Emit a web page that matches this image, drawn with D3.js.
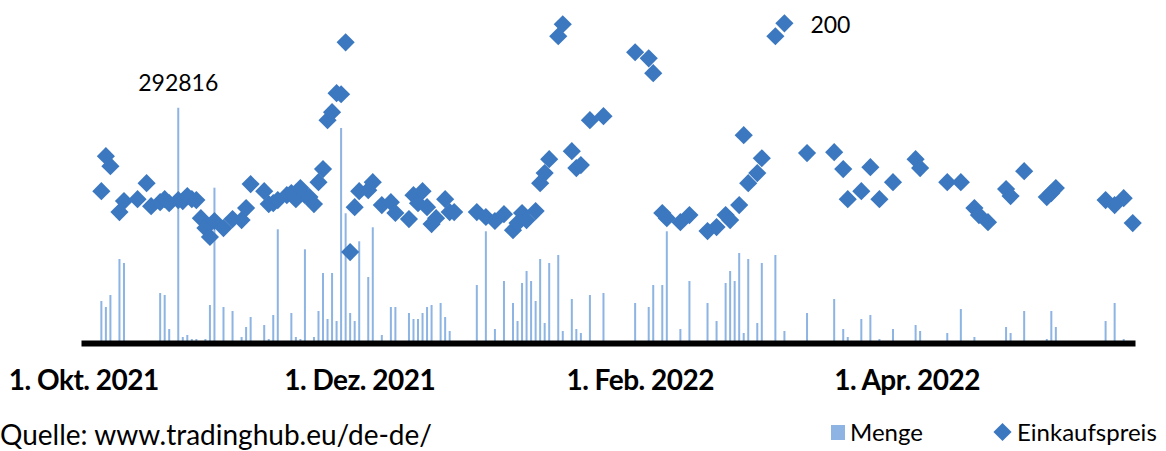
<!DOCTYPE html>
<html>
<head>
<meta charset="utf-8">
<script src="https://cdnjs.cloudflare.com/ajax/libs/d3/7.8.5/d3.min.js"></script>
<style>
  body { margin: 0; background: #fff; }
  svg text { font-family: Lato, "Open Sans", sans-serif; fill: #000; }
</style>
</head>
<body>
<svg id="chart"></svg>
<script>
const width = 1166;
const height = 451;

// Einkaufspreis (Rauten)
const preisDatum = [
    "2021-10-05", "2021-10-06", "2021-10-07", "2021-10-09", "2021-10-10", "2021-10-13", "2021-10-15", "2021-10-16",
    "2021-10-18", "2021-10-19", "2021-10-20", "2021-10-22", "2021-10-23", "2021-10-24", "2021-10-25", "2021-10-26",
    "2021-10-27", "2021-10-28", "2021-10-29", "2021-10-30", "2021-11-01", "2021-11-03", "2021-11-05", "2021-11-06",
    "2021-11-07", "2021-11-10", "2021-11-11", "2021-11-12", "2021-11-13", "2021-11-15", "2021-11-16", "2021-11-17",
    "2021-11-18", "2021-11-19", "2021-11-20", "2021-11-21", "2021-11-22", "2021-11-23", "2021-11-24", "2021-11-25",
    "2021-11-26", "2021-11-27", "2021-11-28", "2021-11-29", "2021-11-30", "2021-12-01", "2021-12-03", "2021-12-04",
    "2021-12-06", "2021-12-08", "2021-12-09", "2021-12-12", "2021-12-13", "2021-12-14", "2021-12-15", "2021-12-16",
    "2021-12-17", "2021-12-18", "2021-12-20", "2021-12-21", "2021-12-22", "2021-12-27", "2021-12-29", "2021-12-31",
    "2022-01-02", "2022-01-04", "2022-01-05", "2022-01-06", "2022-01-07", "2022-01-09", "2022-01-10", "2022-01-11",
    "2022-01-12", "2022-01-14", "2022-01-15", "2022-01-17", "2022-01-18", "2022-01-19", "2022-01-21", "2022-01-24",
    "2022-01-31", "2022-02-03", "2022-02-04", "2022-02-06", "2022-02-07", "2022-02-10", "2022-02-12", "2022-02-16",
    "2022-02-18", "2022-02-20", "2022-02-21", "2022-02-23", "2022-02-24", "2022-02-25", "2022-02-27", "2022-02-28",
    "2022-03-03", "2022-03-05", "2022-03-10", "2022-03-16", "2022-03-18", "2022-03-19", "2022-03-22", "2022-03-24",
    "2022-03-26", "2022-03-29", "2022-04-03", "2022-04-04", "2022-04-10", "2022-04-13", "2022-04-16", "2022-04-17",
    "2022-04-19", "2022-04-23", "2022-04-24", "2022-04-27", "2022-05-02", "2022-05-03", "2022-05-04", "2022-05-15",
    "2022-05-17", "2022-05-19", "2022-05-21"
];
const preis = [
    95.0, 116.9, 110.6, 81.9, 88.8, 90.0, 100.0, 85.6,
    88.1, 90.0, 87.5, 89.4, 88.8, 91.9, 90.0, 89.4,
    78.1, 71.9, 66.3, 76.3, 71.9, 77.5, 76.9, 84.4,
    99.4, 95.0, 86.9, 87.5, 89.4, 92.5, 93.8, 90.0,
    96.9, 92.5, 91.3, 86.9, 100.6, 108.8, 139.4, 144.4,
    156.3, 155.6, 188.1, 56.9, 85.0, 95.0, 95.6, 100.6,
    86.3, 88.1, 81.3, 77.5, 92.5, 87.5, 95.0, 85.0,
    74.4, 78.1, 90.0, 81.9, 81.9, 81.9, 78.8, 76.3,
    80.6, 70.6, 75.0, 81.3, 76.9, 82.5, 100.0, 106.3,
    115.0, 191.9, 199.4, 120.0, 109.4, 111.3, 139.4, 141.9,
    181.9, 178.1, 168.8, 81.3, 78.1, 75.6, 80.0, 70.0,
    72.5, 80.0, 76.9, 86.3, 130.0, 100.0, 106.3, 115.6,
    191.9, 200.0, 118.8, 119.4, 108.8, 90.0, 95.0, 110.0,
    90.0, 100.6, 115.0, 109.4, 100.6, 100.6, 84.4, 80.0,
    75.6, 96.3, 91.9, 107.5, 91.3, 93.8, 96.9, 89.4,
    86.3, 90.6, 75.0
];

// Menge (Säulen)
const mengeDatum = [
    "2021-10-05", "2021-10-06", "2021-10-07", "2021-10-09", "2021-10-10", "2021-10-18", "2021-10-19", "2021-10-20",
    "2021-10-22", "2021-10-23", "2021-10-24", "2021-10-25", "2021-10-26", "2021-10-28", "2021-10-29", "2021-10-30",
    "2021-11-01", "2021-11-03", "2021-11-05", "2021-11-06", "2021-11-07", "2021-11-10", "2021-11-11", "2021-11-12",
    "2021-11-13", "2021-11-16", "2021-11-17", "2021-11-18", "2021-11-19", "2021-11-21", "2021-11-22", "2021-11-23",
    "2021-11-24", "2021-11-25", "2021-11-26", "2021-11-27", "2021-11-28", "2021-11-29", "2021-11-30", "2021-12-01",
    "2021-12-03", "2021-12-04", "2021-12-06", "2021-12-08", "2021-12-09", "2021-12-12", "2021-12-13", "2021-12-14",
    "2021-12-15", "2021-12-16", "2021-12-17", "2021-12-19", "2021-12-20", "2021-12-21", "2021-12-27", "2021-12-29",
    "2021-12-31", "2022-01-02", "2022-01-04", "2022-01-05", "2022-01-06", "2022-01-07", "2022-01-08", "2022-01-09",
    "2022-01-10", "2022-01-11", "2022-01-12", "2022-01-14", "2022-01-15", "2022-01-17", "2022-01-18", "2022-01-19",
    "2022-01-21", "2022-01-24", "2022-01-31", "2022-02-03", "2022-02-04", "2022-02-06", "2022-02-07", "2022-02-10",
    "2022-02-12", "2022-02-16", "2022-02-18", "2022-02-20", "2022-02-21", "2022-02-22", "2022-02-23", "2022-02-24",
    "2022-02-25", "2022-02-27", "2022-02-28", "2022-03-03", "2022-03-05", "2022-03-10", "2022-03-16", "2022-03-18",
    "2022-03-19", "2022-03-22", "2022-03-24", "2022-03-26", "2022-03-29", "2022-04-03", "2022-04-04", "2022-04-10",
    "2022-04-13", "2022-04-16", "2022-04-23", "2022-04-24", "2022-04-27", "2022-05-02", "2022-05-03", "2022-05-04",
    "2022-05-15", "2022-05-17", "2022-05-19"
];
const menge = [
    52290, 44820, 59760, 104580, 99600, 62250, 59760, 17430,
    292816, 7470, 9960, 4980, 4980, 4980, 47310, 193350,
    44820, 39840, 7470, 19920, 32370, 22410, 4980, 34860,
    141560, 37350, 7470, 4980, 116660, 7470, 39840, 87150,
    29880, 87150, 27390, 267680, 161480, 37350, 27390, 126620,
    82170, 144050, 9960, 44820, 44820, 37350, 29880, 29880,
    37350, 44820, 47310, 49800, 32370, 14940, 72210, 139070,
    17430, 77190, 49800, 27390, 74700, 89640, 77190, 52290,
    104580, 24900, 99600, 109560, 14940, 54780, 17430, 12450,
    59760, 62250, 49800, 44820, 72210, 72210, 139070, 17430,
    77190, 49800, 27390, 74700, 89640, 77190, 112050, 12450,
    104580, 24900, 99600, 109560, 14940, 37350, 54780, 17430,
    7470, 29880, 34860, 4980, 17430, 22410, 14940, 12450,
    42330, 7470, 19920, 12450, 39840, 4980, 39840, 19920,
    27390, 49800, 4980
];

const tickDatum = ["2021-10-01", "2021-12-01", "2022-02-01", "2022-04-01"];
const tickText = ["1. Okt. 2021", "1. Dez. 2021", "1. Feb. 2022", "1. Apr. 2022"];

const serien = ["Menge", "Einkaufspreis"];
const quelle = "Quelle: www.tradinghub.eu/de-de/";

const farbeMenge = '#8db4e2';
const farbePreis = '#3c78c0';

const parse = d3.utcParse("%Y-%m-%d");

const svg = d3.select('#chart')
    .attr('width', width)
    .attr('height', height);

const baseY = 343;

// Datumsachse: ein Tag = eine Kategorie, Punkt in der Mitte
const x = d3.scaleUtc()
    .domain([Date.UTC(2021, 8, 30, 12), Date.UTC(2022, 4, 21, 12)])
    .range([81, 1135]);

const yMenge = d3.scaleLinear()
    .domain([0, 300000])
    .range([baseY, 102]);

const yPreis = d3.scaleLinear()
    .domain([0, 200])
    .range([baseY, 23.3]);

const mengeDaten = mengeDatum.map((d, i) => ({ date: parse(d), value: menge[i] }));
const preisDaten = preisDatum.map((d, i) => ({ date: parse(d), value: preis[i] }));

// Säulen
svg.append('g')
    .selectAll('rect')
    .data(mengeDaten)
    .enter().append('rect')
    .attr('x', d => x(d.date) - 1)
    .attr('y', d => yMenge(d.value))
    .attr('width', 2)
    .attr('height', d => baseY - yMenge(d.value))
    .attr('fill', farbeMenge);

// Achse
const axis = svg.append('g')
    .attr('transform', `translate(0, ${baseY})`)
    .call(d3.axisBottom(x)
        .tickValues(tickDatum.map(parse))
        .tickSize(0)
        .tickSizeOuter(0)
        .tickFormat((d, i) => tickText[i]));

axis.select('.domain')
    .attr('stroke', '#000')
    .attr('stroke-width', 6);

axis.selectAll('.tick text')
    .attr('y', 47)
    .attr('dy', null)
    .style('font-family', 'Lato, sans-serif')
    .style('font-weight', 'bold')
    .style('font-size', '28px')
    .style('letter-spacing', '-0.5px')
    .attr('fill', '#000');

// Rauten
const raute = d3.symbol(d3.symbolSquare, 165);

svg.append('g')
    .selectAll('path')
    .data(preisDaten)
    .enter().append('path')
    .attr('d', raute)
    .attr('transform', d => `translate(${x(d.date)}, ${yPreis(d.value)}) rotate(45)`)
    .attr('fill', farbePreis);

// Datenbeschriftungen
const maxMenge = mengeDaten.reduce((a, b) => b.value > a.value ? b : a);
svg.append('text')
    .attr('x', x(maxMenge.date))
    .attr('y', yMenge(maxMenge.value) - 17)
    .attr('text-anchor', 'middle')
    .style('font-size', '23px')
    .text(maxMenge.value);

const maxPreis = preisDaten.reduce((a, b) => b.value > a.value ? b : a);
svg.append('text')
    .attr('x', x(maxPreis.date) + 26)
    .attr('y', yPreis(maxPreis.value) + 10)
    .style('font-size', '23px')
    .text(maxPreis.value);

// Quelle
svg.append('text')
    .attr('x', 0)
    .attr('y', 445)
    .style('font-size', '28px')
    .text(quelle);

// Legende
const legend = svg.append('g');

legend.append('rect')
    .attr('x', 831)
    .attr('y', 425)
    .attr('width', 14)
    .attr('height', 15)
    .attr('fill', farbeMenge);

legend.append('text')
    .attr('x', 850)
    .attr('y', 441)
    .style('font-size', '24px')
    .text(serien[0]);

legend.append('path')
    .attr('d', raute)
    .attr('transform', 'translate(1002.5, 432) rotate(45)')
    .attr('fill', farbePreis);

legend.append('text')
    .attr('x', 1017)
    .attr('y', 441)
    .style('font-size', '24px')
    .text(serien[1]);
</script>
</body>
</html>
